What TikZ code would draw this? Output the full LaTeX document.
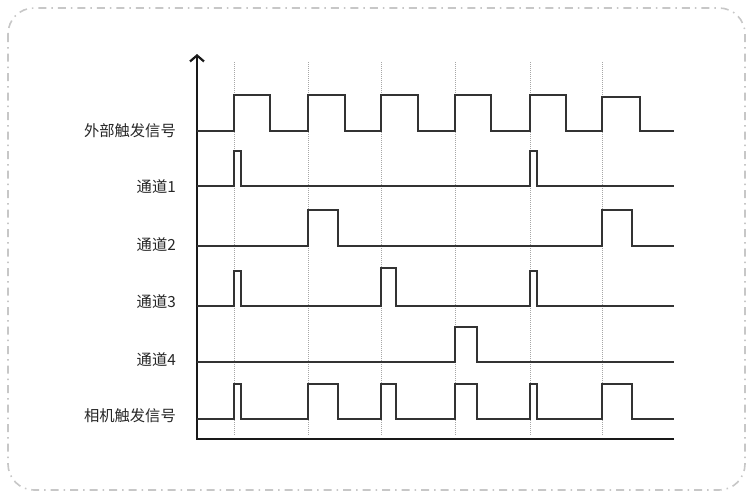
\documentclass[tikz,border=0pt]{standalone}
\usepackage{fontspec}
\newfontfamily\cjk{Noto Sans CJK SC}
\usepackage{tikz}
\usetikzlibrary{arrows.meta}

\begin{document}
\begin{tikzpicture}[x=1pt,y=-1pt,line join=miter]
\tikzset{sig/.style={draw=black!80,line width=1.5pt},
  lbl/.style={font=\cjk\fontsize{15.3}{18}\selectfont,text=black!85,anchor=east,inner sep=0pt},
  guide/.style={draw=black!35,line width=0.9pt,dash pattern=on 1pt off 1pt},
  axisline/.style={draw=black!90,line width=2.4pt}}
\useasboundingbox (0,0) rectangle (751,496);

% ---------- 外框 ----------
\draw[draw=black!22,line width=1.6pt,rounded corners=26pt,
  dash pattern=on 8pt off 5pt on 1.5pt off 5pt] (8,8) rectangle (745,490);

% ---------- 虚线 ----------
\coordinate (T1) at (234,62);
\coordinate (T2) at (308,62);
\coordinate (T3) at (381,62);
\coordinate (T4) at (455,62);
\coordinate (T5) at (530,62);
\coordinate (T6) at (602,62);
\draw[guide] (T1) -- ++(0,373);
\draw[guide] (T2) -- ++(0,373);
\draw[guide] (T3) -- ++(0,373);
\draw[guide] (T4) -- ++(0,373);
\draw[guide] (T5) -- ++(0,373);
\draw[guide] (T6) -- ++(0,373);

% ---------- 坐标轴 ----------
\coordinate (O) at (197,439);
\coordinate (ytop) at (197,54);
\coordinate (xend) at (674,439);
\draw[axisline,-{Straight Barb[length=6pt,width=14pt,line width=2.2pt]}] (xend) -| (ytop);

% ---------- 标签 ----------
\node[lbl] (ext) at (176,131) {外部触发信号};
\node[lbl] (ch1) at (176,187) {通道1};
\node[lbl] (ch2) at (176,245) {通道2};
\node[lbl] (ch3) at (176,302) {通道3};
\node[lbl] (ch4) at (176,360) {通道4};
\node[lbl] (cam) at (176,416) {相机触发信号};

% ---------- 外部触发信号 ----------
\draw[sig] (197,131) -| (234,95) -| (270,131) -| (308,95) -| (345,131)
  -| (381,95) -| (418,131) -| (455,95) -| (491,131) -| (530,95) -| (566,131)
  -| (602,97) -| (640,131) -- (674,131);

% ---------- 通道1 ----------
\draw[sig] (197,186) -| (234,151) -| (241,186) -| (530,151) -| (537,186) -- (674,186);

% ---------- 通道2 ----------
\draw[sig] (197,246) -| (308,210) -| (338,246) -| (602,210) -| (632,246) -- (674,246);

% ---------- 通道3 ----------
\draw[sig] (197,306) -| (234,271) -| (241,306) -| (381,268) -| (396,306)
  -| (530,271) -| (537,306) -- (674,306);

% ---------- 通道4 ----------
\draw[sig] (197,362) -| (455,327) -| (477,362) -- (674,362);

% ---------- 相机触发信号 ----------
\draw[sig] (197,419) -| (234,384) -| (241,419) -| (308,384) -| (338,419)
  -| (381,384) -| (396,419) -| (455,384) -| (477,419) -| (530,384) -| (537,419)
  -| (602,384) -| (632,419) -- (674,419);

\end{tikzpicture}
\end{document}
